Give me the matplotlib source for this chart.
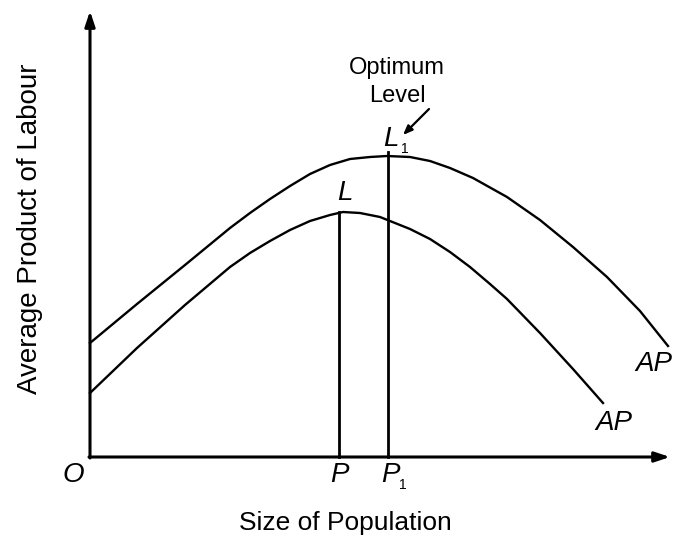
import matplotlib
matplotlib.use("Agg")
import matplotlib.pyplot as plt

plt.rcParams['font.family'] = ['Liberation Sans', 'DejaVu Sans']

# curve points (origin O = 0,0)
ap_x = [0, 47, 95, 140, 160, 180, 200, 220, 240, 253, 270, 290, 300,
        320, 340, 360, 380, 400, 417, 450, 483, 513]
ap_y = [64, 109, 152, 190, 204, 216, 227, 236, 242, 245, 244, 240, 236,
        228, 218, 205, 190, 173, 158, 124, 88, 54]

ap1_x = [0, 47, 95, 140, 160, 180, 200, 220, 240, 260, 280, 297, 320,
         340, 360, 383, 417, 450, 483, 517, 550, 578]
ap1_y = [114, 153, 192, 229, 244, 258, 271, 283, 292, 298, 300, 301, 300,
         296, 289, 279, 260, 237, 210, 180, 146, 111]

p_x, p_top = 249, 245
p1_x, p1_top = 298, 305

fig = plt.figure(figsize=(6.75, 5.39), dpi=100)
ax = fig.add_axes([0, 0, 1, 1])
ax.set_xlim(-90, 585)
ax.set_ylim(-82, 457)
ax.axis('off')

# axes with arrows
head = '-|>,head_length=0.9,head_width=0.3'
ax.annotate('', xy=(580, 0), xytext=(-1, 0),
            arrowprops=dict(arrowstyle=head, lw=2.2, color='black',
                            shrinkA=0, shrinkB=0))
ax.annotate('', xy=(0, 446), xytext=(0, -1),
            arrowprops=dict(arrowstyle=head, lw=2.2, color='black',
                            shrinkA=0, shrinkB=0))

ax.plot(ap_x, ap_y, color='black', lw=1.7)
ax.plot(ap1_x, ap1_y, color='black', lw=1.7)
ax.plot([p_x, p_x], [0, p_top], color='black', lw=2)
ax.plot([p1_x, p1_x], [0, p1_top], color='black', lw=2)

it = dict(fontsize=20, style='italic', color='black', ha='center', va='center')
sub = dict(fontsize=10, color='black', ha='center', va='center')
ax.text(-17, -18, 'O', **it)
ax.text(p_x, -18, 'P', **it)
ax.text(p1_x + 2, -18, 'P', **it)
ax.text(p1_x + 15, -28, '1', **sub)
ax.text(p_x + 6, 264, 'L', **it)
ax.text(p1_x + 3, 318, 'L', **it)
ax.text(p1_x + 17, 308, '1', **sub)
ax.text(524, 34, 'AP', **it)
ax.text(564, 93, 'AP', **it)

ax.text(307, 389, 'Optimum', ha='center', va='center', fontsize=17)
ax.text(307, 361, 'Level', ha='center', va='center', fontsize=17)
ax.annotate('', xy=(313, 322), xytext=(339, 348),
            arrowprops=dict(arrowstyle='-|>,head_length=0.55,head_width=0.22',
                            lw=1.6, color='black', shrinkA=0, shrinkB=0))

ax.text(255, -66, 'Size of Population', ha='center', va='center', fontsize=19)
ax.text(-60, 228, 'Average Product of Labour', ha='center', va='center',
        rotation=90, fontsize=20)

fig.savefig('out.png', dpi=100)
